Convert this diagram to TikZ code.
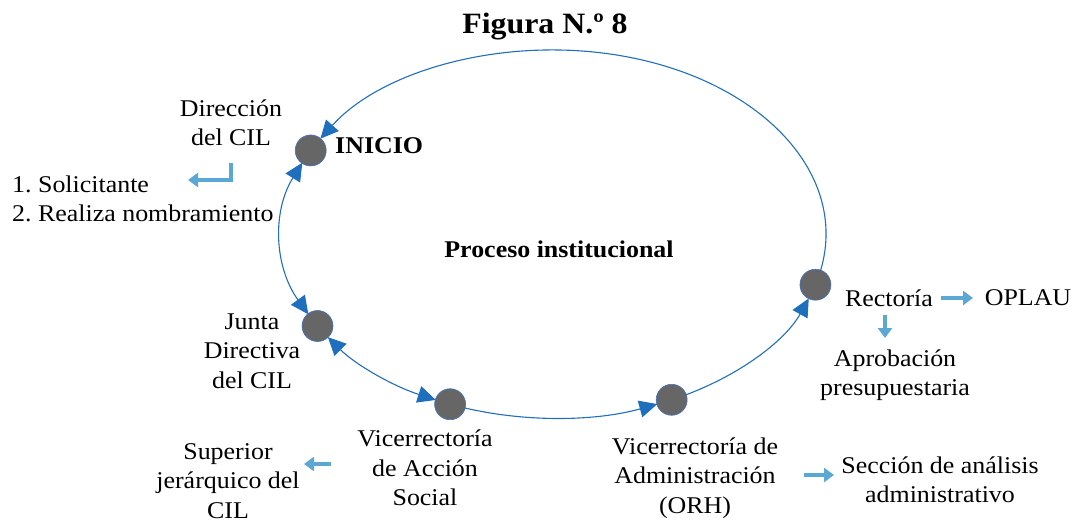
\documentclass[tikz,border=0pt]{standalone}
\usepackage{fontspec}
\setmainfont{Liberation Serif}[FakeStretch=1.08]
\usetikzlibrary{arrows.meta,calc}
\definecolor{lineblue}{HTML}{1F6FBF}
\definecolor{lightblue}{HTML}{5BA8D4}
\definecolor{dotgray}{HTML}{666666}
\definecolor{dotedge}{HTML}{4472C4}
\tikzset{
  txt/.style={font=\fontsize{24}{29.5}\selectfont, align=center, inner sep=0pt},
  dot/.style={circle, fill=dotgray, draw=dotedge, line width=0.6pt, minimum size=31pt, inner sep=0pt},
  cyc/.style={draw=lineblue, line width=1.1pt},
  tipend/.style={-{Triangle[length=18pt,width=17pt]}, lineblue},
  tipboth/.style={{Triangle[length=18pt,width=17pt]}-{Triangle[length=18pt,width=17pt]}, lineblue},
  fat/.style={draw=lightblue, line width=4.5pt, -{Triangle[length=10pt,width=14pt]}},
  ell/.style={x radius=272.5pt, y radius=184pt},
}
\frenchspacing
\begin{document}
\begin{tikzpicture}[x=1pt,y=1pt]
\useasboundingbox (0,0) rectangle (1073,523);
\coordinate (c) at (553.5,289);
% nodes on the cycle
\node[dot] (ini) at ($(c)+(153:272.5pt and 184pt)$) {};
\node[dot] (jun) at ($(c)+(210:272.5pt and 184pt)$) {};
\node[dot] (vas) at ($(c)+(247.7:272.5pt and 184pt)$) {};
\node[dot] (vad) at ($(c)+(295.7:272.5pt and 184pt)$) {};
\node[dot] (rec) at ($(c)+(344:272.5pt and 184pt)$) {};
% arcs
\draw[cyc,tipend] ($(c)+(-11.5:272.5pt and 184pt)$) arc[ell, start angle=-11.5, end angle=148.8];
\draw[cyc,tipboth] ($(c)+(157.2:272.5pt and 184pt)$) arc[ell, start angle=157.2, end angle=205.9];
\draw[cyc,tipboth] ($(c)+(214.1:272.5pt and 184pt)$) arc[ell, start angle=214.1, end angle=244.4];
\draw[cyc,tipend] ($(c)+(251:272.5pt and 184pt)$) arc[ell, start angle=251, end angle=292.4];
\draw[cyc,tipend] ($(c)+(299:272.5pt and 184pt)$) arc[ell, start angle=299, end angle=339.5];
% texts
\node[txt, font=\fontsize{29.5}{32}\selectfont\bfseries] (title) at (545,496) {Figura N.º 8};
\node[txt, font=\fontsize{24}{29.5}\selectfont\bfseries, anchor=west] (initxt) at (335,377) {INICIO};
\node[txt, font=\fontsize{24}{29.5}\selectfont\bfseries] (proc) at (559,274) {Proceso institucional};
\node[txt] (dir) at (231,400) {Dirección\\del CIL};
\node[txt, align=left, anchor=west] (sol) at (12,324) {1. Solicitante\\2. Realiza nombramiento};
\node[txt] (juntxt) at (252,172) {Junta\\Directiva\\del CIL};
\node[txt] (vastxt) at (425,55) {Vicerrectoría\\de Acción\\Social};
\node[txt] (sup) at (228,42) {Superior\\jerárquico del\\CIL};
\node[txt] (vadtxt) at (695,45) {Vicerrectoría de\\Administración\\(ORH)};
\node[txt] (sec) at (940,43) {Sección de análisis\\administrativo};
\node[txt] (rectxt) at (889,225) {Rectoría};
\node[txt] (oplau) at (1028,225) {OPLAU};
\node[txt] (apr) at (895,148) {Aprobación\\presupuestaria};
% light blue arrows
\coordinate (b1) at (231,360);
\coordinate (b2) at (188,343);
\draw[fat] (b1) |- (b2);
\coordinate (r1) at (941,225);
\coordinate (r2) at (973,225);
\draw[fat] (r1) -- (r2);
\coordinate (d1) at (885,208);
\coordinate (d2) at (885,185);
\draw[fat] (d1) -- (d2);
\coordinate (s1) at (331,59);
\coordinate (s2) at (304,59);
\draw[fat] (s1) -- (s2);
\coordinate (a1) at (804,48);
\coordinate (a2) at (834,48);
\draw[fat] (a1) -- (a2);
\end{tikzpicture}
\end{document}
